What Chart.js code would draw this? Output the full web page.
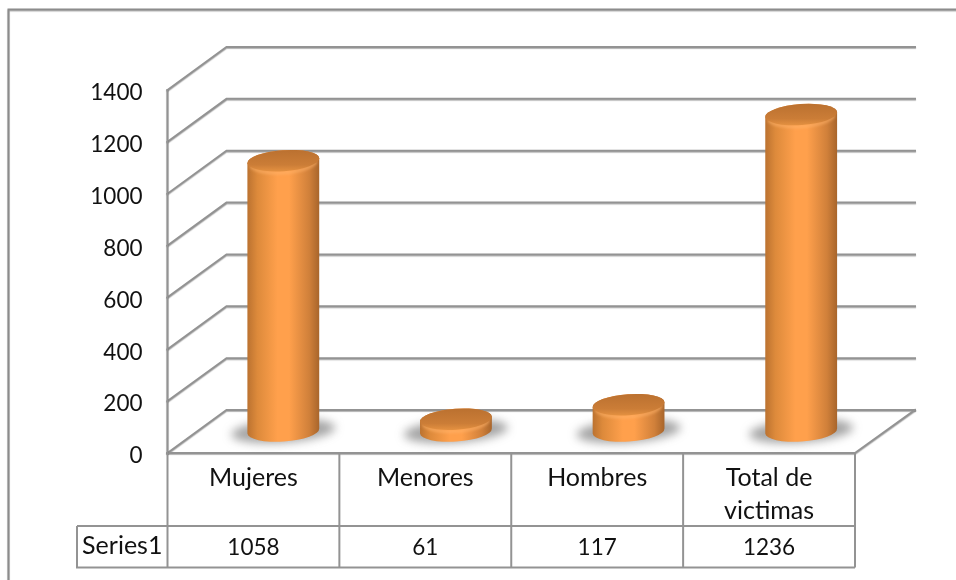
<!DOCTYPE html>
<html>
<head>
<meta charset="utf-8">
<title>Victimas</title>
<script src="https://cdn.jsdelivr.net/npm/chart.js@4"></script>
<style>
    html, body { margin: 0; padding: 0; background: #fff; }
    canvas { display: block; }
</style>
</head>
<body>
<canvas id="victimasChart" width="956" height="580"></canvas>
<script>
const categories = [["Mujeres"], ["Menores"], ["Hombres"], ["Total de", "victimas"]];
const seriesName = "Series1";
const seriesValues = [1058, 61, 117, 1236];
const yTicks = [0, 200, 400, 600, 800, 1000, 1200, 1400];

const lineGray = "#939393";
// Lato has wider digits than the original font, so numbers get a smaller size
const wordSize = 25;
const digitSize = 22.5;

// how far the back wall sits from the front of the box
const depthX = 59;
const depthY = 43;

function strokeLine(ctx, points, width, color) {
    ctx.beginPath();
    ctx.moveTo(points[0][0], points[0][1]);
    for (let i = 1; i < points.length; i++) {
        ctx.lineTo(points[i][0], points[i][1]);
    }
    ctx.lineWidth = width;
    ctx.strokeStyle = color;
    ctx.stroke();
}

function drawCylinder(ctx, cx, topY, baseY, rx) {
    const ry = 10.5;
    const rot = -0.07;

    // floor shadow
    ctx.save();
    ctx.filter = "blur(5px)";
    ctx.fillStyle = "rgba(90,90,90,0.55)";
    ctx.beginPath();
    ctx.ellipse(cx, baseY, rx + 16, ry + 1, rot, 0, Math.PI * 2);
    ctx.fill();
    ctx.restore();

    // body
    let body = ctx.createLinearGradient(cx - rx, 0, cx + rx, 0);
    body.addColorStop(0, "#bb7230");
    body.addColorStop(0.14, "#dd8a3b");
    body.addColorStop(0.42, "#ffa04c");
    body.addColorStop(0.58, "#ffa04c");
    body.addColorStop(0.86, "#d0803a");
    body.addColorStop(1, "#a8652b");
    ctx.fillStyle = body;
    ctx.beginPath();
    ctx.ellipse(cx, baseY, rx, ry, rot, 0, Math.PI);
    ctx.ellipse(cx, topY, rx, ry, rot, Math.PI, Math.PI * 2);
    ctx.closePath();
    ctx.fill();

    // soft light band just under the lid
    ctx.save();
    ctx.beginPath();
    ctx.ellipse(cx, baseY, rx, ry, rot, 0, Math.PI);
    ctx.ellipse(cx, topY, rx, ry, rot, Math.PI, Math.PI * 2);
    ctx.closePath();
    ctx.clip();
    ctx.filter = "blur(1.5px)";
    ctx.lineWidth = 3;
    ctx.strokeStyle = "rgba(255,178,105,0.7)";
    ctx.beginPath();
    ctx.ellipse(cx, topY + 1.5, rx - 3, ry, rot, 0.1, Math.PI - 0.1);
    ctx.stroke();
    ctx.restore();

    // lid
    let lid = ctx.createLinearGradient(0, topY - ry, 0, topY + ry);
    lid.addColorStop(0, "#bb7130");
    lid.addColorStop(0.7, "#cb7d37");
    lid.addColorStop(1, "#e39040");
    ctx.fillStyle = lid;
    ctx.beginPath();
    ctx.ellipse(cx, topY, rx, ry, rot, 0, Math.PI * 2);
    ctx.fill();
}

// back walls, floor and the outer frame go under the bars
const boxPlugin = {
    id: "box",
    beforeDatasetsDraw(chart) {
        const ctx = chart.ctx;
        const y = chart.scales.y;
        const area = chart.chartArea;

        ctx.save();
        ctx.lineCap = "square";
        ctx.shadowColor = "rgba(0,0,0,0.3)";
        ctx.shadowOffsetY = 1;
        ctx.shadowBlur = 1;
        strokeLine(ctx, [[8.5, 580], [8.5, 9.5], [956, 9.5]], 2, "#8c8c8c");

        yTicks.forEach(function (tick) {
            const py = y.getPixelForValue(tick);
            strokeLine(ctx, [[area.left, py], [area.left + depthX, py - depthY], [area.right + depthX + 1, py - depthY]], 2, lineGray);
        });

        // right edge of the floor and the front of it
        const floorY = y.getPixelForValue(0);
        strokeLine(ctx, [[area.left, floorY], [area.right, floorY], [area.right + depthX + 1, floorY - depthY]], 2, lineGray);
        strokeLine(ctx, [[area.left, y.getPixelForValue(1400)], [area.left, floorY]], 2, lineGray);
        ctx.restore();
    }
};

const cylinderPlugin = {
    id: "cylinders",
    afterDatasetsDraw(chart) {
        const ctx = chart.ctx;
        const area = chart.chartArea;
        chart.getDatasetMeta(0).data.forEach(function (bar) {
            // the columns stand half way into the box, a little further on the right
            const shift = 29.5 + 3 * (bar.x - area.left) / (area.right - area.left);
            drawCylinder(ctx, bar.x + shift, bar.y - 18, bar.base - 22, bar.width / 2);
        });
    }
};

const dataTablePlugin = {
    id: "dataTable",
    afterDraw(chart) {
        const ctx = chart.ctx;
        const x = chart.scales.x;
        const area = chart.chartArea;
        const rowTop = 526;
        const rowBottom = 567.5;
        const tableLeft = 77;
        const step = (area.right - area.left) / categories.length;

        ctx.save();
        for (let i = 0; i <= categories.length; i++) {
            const px = area.left + i * step;
            strokeLine(ctx, [[px, area.bottom], [px, rowBottom]], 2, lineGray);
        }
        strokeLine(ctx, [[tableLeft, rowTop], [area.right, rowTop]], 2, lineGray);
        strokeLine(ctx, [[tableLeft, rowTop], [tableLeft, rowBottom], [area.right, rowBottom]], 2, lineGray);

        ctx.fillStyle = "#111";
        ctx.textAlign = "center";
        ctx.textBaseline = "middle";
        ctx.font = wordSize + "px Lato";
        ctx.fillText(seriesName, (tableLeft + area.left) / 2, 546);
        ctx.font = digitSize + "px Lato";
        seriesValues.forEach(function (value, i) {
            ctx.fillText(value, x.getPixelForValue(i), 548);
        });
        ctx.restore();
    }
};

let ctx = document.getElementById("victimasChart").getContext("2d");
let victimasChart = new Chart(ctx, {
    type: "bar",
    data: {
        labels: categories,
        datasets: [{
            label: seriesName,
            data: seriesValues,
            backgroundColor: "rgba(0,0,0,0)",
            barThickness: 72
        }]
    },
    options: {
        responsive: false,
        animation: false,
        layout: { padding: { top: 90, right: 101, left: 0, bottom: 0 } },
        plugins: {
            legend: { display: false },
            title: { display: false },
            tooltip: { enabled: false }
        },
        scales: {
            x: {
                grid: { display: false },
                border: { display: false },
                ticks: {
                    color: "#111",
                    font: { family: "Lato", size: wordSize, lineHeight: 1.3 },
                    padding: 1,
                    maxRotation: 0,
                    autoSkip: false
                },
                afterFit(scale) { scale.height = 127; }
            },
            y: {
                min: 0,
                max: 1400,
                afterBuildTicks(scale) {
                    scale.ticks = yTicks.map(function (v) { return { value: v }; });
                },
                grid: { display: false },
                border: { display: false },
                ticks: {
                    color: "#111",
                    font: { family: "Lato", size: digitSize },
                    padding: 17,
                    labelOffset: 3,
                    callback: function (value) { return String(value); }
                },
                afterFit(scale) { scale.width = 167.5; }
            }
        }
    },
    plugins: [boxPlugin, cylinderPlugin, dataTablePlugin]
});
</script>
</body>
</html>
